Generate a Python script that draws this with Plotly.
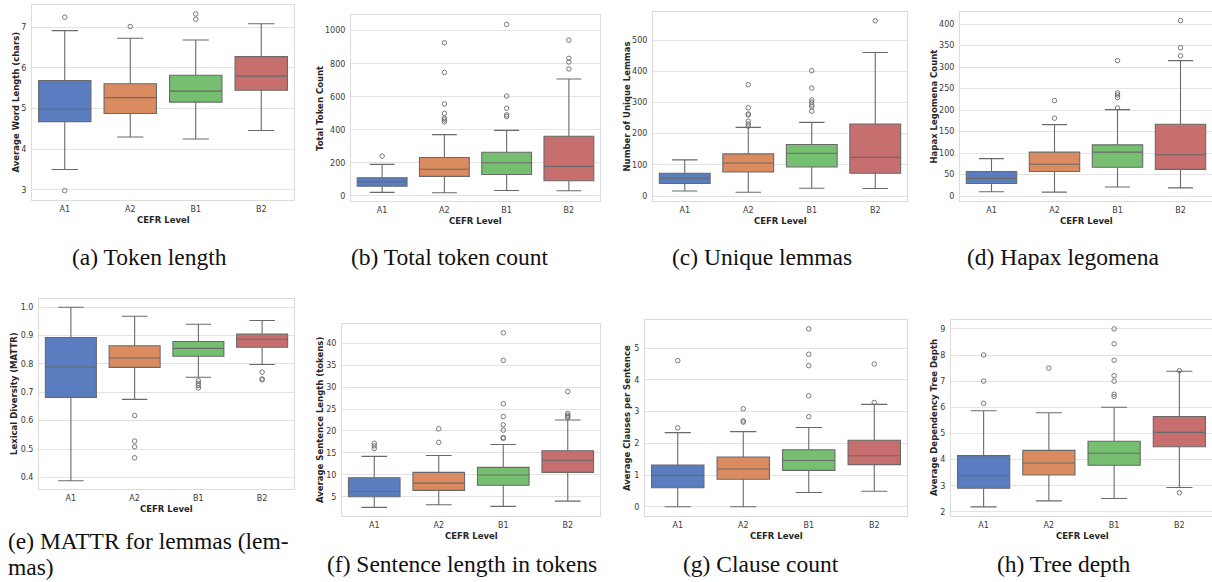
import plotly.graph_objects as go

W, H = 1212, 582

categories = ["A1", "A2", "B1", "B2"]

# (a) Average word length
wl_lo = [3.50, 4.30, 4.25, 4.46]
wl_q1 = [4.68, 4.88, 5.16, 5.45]
wl_med = [4.98, 5.27, 5.43, 5.80]
wl_q3 = [5.69, 5.61, 5.82, 6.28]
wl_hi = [6.92, 6.73, 6.69, 7.09]
wl_out_x = ["A1", "A1", "A2", "B1", "B1"]
wl_out_y = [7.25, 2.98, 7.02, 7.33, 7.20]

# (b) Total token count
tt_lo = [20, 18, 32, 30]
tt_q1 = [57, 117, 129, 91]
tt_med = [85, 160, 200, 178]
tt_q3 = [109, 232, 263, 360]
tt_hi = [190, 370, 396, 707]
tt_out_x = ["A1", "A2", "A2", "A2", "A2", "A2", "A2", "A2",
            "B1", "B1", "B1", "B1", "B1", "B2", "B2", "B2", "B2"]
tt_out_y = [240, 927, 747, 556, 499, 470, 460, 448,
            1038, 604, 530, 490, 480, 943, 832, 810, 768]

# (c) Unique lemmas
ul_lo = [16, 12, 25, 24]
ul_q1 = [40, 77, 93, 73]
ul_med = [57, 106, 137, 124]
ul_q3 = [73, 135, 165, 231]
ul_hi = [116, 220, 236, 460]
ul_out_x = ["A2"] * 7 + ["B1"] * 7 + ["B2"]
ul_out_y = [357, 283, 263, 260, 240, 231, 224,
            402, 346, 308, 301, 292, 286, 272, 562]

# (d) Hapax legomena
hl_lo = [10, 9, 21, 19]
hl_q1 = [29, 57, 67, 62]
hl_med = [41, 74, 102, 96]
hl_q3 = [57, 102, 119, 167]
hl_hi = [87, 166, 201, 315]
hl_out_x = ["A2", "A2", "B1", "B1", "B1", "B1", "B1", "B2", "B2", "B2"]
hl_out_y = [222, 181, 315, 240, 235, 229, 205, 408, 345, 326]

# (e) MATTR
mt_lo = [0.388, 0.675, 0.753, 0.798]
mt_q1 = [0.682, 0.788, 0.827, 0.859]
mt_med = [0.789, 0.821, 0.855, 0.887]
mt_q3 = [0.893, 0.864, 0.879, 0.905]
mt_hi = [1.000, 0.968, 0.940, 0.953]
mt_out_x = ["A2"] * 4 + ["B1"] * 4 + ["B2"] * 3
mt_out_y = [0.618, 0.528, 0.508, 0.469, 0.741, 0.732, 0.724, 0.715,
            0.771, 0.747, 0.744]

# (f) Sentence length
sl_lo = [2.56, 3.17, 2.8, 4.0]
sl_q1 = [5.0, 6.44, 7.6, 10.55]
sl_med = [6.2, 8.1, 9.94, 13.3]
sl_q3 = [9.33, 10.55, 11.7, 15.5]
sl_hi = [14.2, 14.4, 16.9, 22.5]
sl_out_x = ["A1"] * 3 + ["A2"] * 2 + ["B1"] * 8 + ["B2"] * 5
sl_out_y = [17.2, 16.6, 16.0, 20.5, 17.4,
            42.4, 36.1, 26.2, 23.3, 21.4, 20.2, 18.5, 18.3,
            29.0, 24.0, 23.6, 23.3, 23.0]

# (g) Clauses per sentence
cl_lo = [0.0, 0.0, 0.45, 0.49]
cl_q1 = [0.6, 0.87, 1.15, 1.33]
cl_med = [0.99, 1.19, 1.46, 1.61]
cl_q3 = [1.32, 1.57, 1.80, 2.10]
cl_hi = [2.34, 2.37, 2.50, 3.23]
cl_out_x = ["A1", "A1", "A2", "A2", "A2", "B1", "B1", "B1", "B1", "B1", "B2", "B2"]
cl_out_y = [4.61, 2.49, 3.09, 2.71, 2.67, 5.61, 4.81, 4.45, 3.50, 2.84, 4.50, 3.29]

# (h) Tree depth
td_lo = [2.19, 2.42, 2.51, 2.93]
td_q1 = [2.90, 3.41, 3.78, 4.49]
td_med = [3.38, 3.87, 4.24, 5.04]
td_q3 = [4.15, 4.35, 4.70, 5.65]
td_hi = [5.87, 5.79, 6.00, 7.38]
td_out_x = ["A1", "A1", "A1", "A2"] + ["B1"] * 7 + ["B2", "B2"]
td_out_y = [8.0, 7.0, 6.15, 7.5, 9.0, 8.43, 7.8, 7.21, 7.0, 6.5, 6.41, 7.40, 2.73]

y_titles = ["Average Word Length (chars)", "Total Token Count",
            "Number of Unique Lemmas", "Hapax Legomena Count",
            "Lexical Diversity (MATTR)", "Average Sentence Length (tokens)",
            "Average Clauses per Sentence", "Average Dependency Tree Depth"]
y_ticks = [[3, 4, 5, 6, 7], [0, 200, 400, 600, 800, 1000],
           [0, 100, 200, 300, 400, 500], [0, 50, 100, 150, 200, 250, 300, 350, 400],
           [0.4, 0.5, 0.6, 0.7, 0.8, 0.9, 1.0], [5, 10, 15, 20, 25, 30, 35, 40],
           [0, 1, 2, 3, 4, 5], [2, 3, 4, 5, 6, 7, 8, 9]]
y_ticktext = [None, None, None, None,
              ["0.4", "0.5", "0.6", "0.7", "0.8", "0.9", "1.0"], None, None, None]
captions = ["(a) Token length", "(b) Total token count", "(c) Unique lemmas",
            "(d) Hapax legomena", "(e) MATTR for lemmas (lem-",
            "(f) Sentence length in tokens", "(g) Clause count", "(h) Tree depth"]
caption_extra = "mas)"

panels = [
    (wl_lo, wl_q1, wl_med, wl_q3, wl_hi, wl_out_x, wl_out_y),
    (tt_lo, tt_q1, tt_med, tt_q3, tt_hi, tt_out_x, tt_out_y),
    (ul_lo, ul_q1, ul_med, ul_q3, ul_hi, ul_out_x, ul_out_y),
    (hl_lo, hl_q1, hl_med, hl_q3, hl_hi, hl_out_x, hl_out_y),
    (mt_lo, mt_q1, mt_med, mt_q3, mt_hi, mt_out_x, mt_out_y),
    (sl_lo, sl_q1, sl_med, sl_q3, sl_hi, sl_out_x, sl_out_y),
    (cl_lo, cl_q1, cl_med, cl_q3, cl_hi, cl_out_x, cl_out_y),
    (td_lo, td_q1, td_med, td_q3, td_hi, td_out_x, td_out_y),
]

# layout (pixel boxes: left, top, right, bottom) and y ranges
boxes_px = [(32, 5, 294, 200), (351, 15, 600, 201), (653, 12, 907, 201), (960, 12, 1213, 201),
            (39, 299, 294, 489), (342, 324, 600, 516), (645, 320, 907, 516), (951, 320, 1213, 516)]
y_ranges = [[2.75, 7.55], [-32, 1095], [-16, 590], [-11.6, 428],
            [0.359, 1.029], [0.6, 44.4], [-0.29, 5.89], [1.84, 9.34]]
ytitle_x = [15, 320, 626, 933, 14, 320, 627, 934]
caption_pos = [(149, 257), (449, 257), (762, 257), (1063, 257),
               (6, 541), (462, 564), (761, 564), (1063, 564)]
caption_extra_pos = (6, 567)

colors = ["#597DBF", "#DA8B5F", "#76BF71", "#C76E6E"]
line_col = "#6a6a6a"
grid_col = "#e3e3e3"
font_fam = "DejaVu Sans"
cap_font = dict(family="Liberation Serif", size=23.5, color="#111111")

def px(x):
    return x / W

def py(y):
    return 1 - y / H

fig = go.Figure()
annotations = []
layout_axes = {}

for i, (lo, q1, med, q3, hi, ox, oy) in enumerate(panels):
    n = i + 1
    xa = "x" if n == 1 else f"x{n}"
    ya = "y" if n == 1 else f"y{n}"
    for j, cat in enumerate(categories):
        fig.add_trace(go.Box(
            x=[j], q1=[q1[j]], median=[med[j]], q3=[q3[j]],
            lowerfence=[lo[j]], upperfence=[hi[j]],
            width=0.8, whiskerwidth=0.5, fillcolor=colors[j],
            line=dict(color=line_col, width=1.1), boxpoints=False,
            xaxis=xa, yaxis=ya, showlegend=False, hoverinfo="skip"))
    fig.add_trace(go.Scatter(
        x=[categories.index(c) for c in ox], y=oy, mode="markers",
        marker=dict(symbol="circle-open", size=4.5, color=line_col,
                    line=dict(width=0.9, color=line_col)),
        xaxis=xa, yaxis=ya, showlegend=False, hoverinfo="skip"))

    l, t, r, b = boxes_px[i]
    xkey = "xaxis" if n == 1 else f"xaxis{n}"
    ykey = "yaxis" if n == 1 else f"yaxis{n}"
    layout_axes[xkey] = dict(
        domain=[px(l), min(px(r), 1.0)], anchor=ya, range=[-0.5, 3.5],
        tickvals=[0, 1, 2, 3], ticktext=categories, showgrid=False,
        showline=True, mirror=True, linecolor="#dcdcdc", linewidth=1,
        ticks="outside", ticklen=1, tickcolor="rgba(0,0,0,0)",
        tickfont=dict(family=font_fam, size=8, color="#3a3a3a"),
        zeroline=False, fixedrange=True)
    ytxt = y_ticktext[i]
    ydict = dict(
        domain=[py(b), py(t)], anchor=xa, range=y_ranges[i],
        tickvals=y_ticks[i], showgrid=True, gridcolor=grid_col, gridwidth=1,
        showline=True, mirror=True, linecolor="#dcdcdc", linewidth=1,
        ticks="outside", ticklen=3, tickcolor="rgba(0,0,0,0)",
        tickfont=dict(family=font_fam, size=8, color="#3a3a3a"),
        zeroline=False, fixedrange=True)
    if ytxt is not None:
        ydict["ticktext"] = ytxt
    layout_axes[ykey] = ydict

    # y-axis title
    annotations.append(dict(
        x=px(ytitle_x[i]), y=py((t + b) / 2), xref="paper", yref="paper",
        text=f"<b>{y_titles[i]}</b>", textangle=-90, showarrow=False,
        font=dict(family=font_fam, size=8.5, color="#262626"),
        xanchor="center", yanchor="middle"))
    # x-axis title
    annotations.append(dict(
        x=px((l + r) / 2), y=py(b + 19.5),
        xref="paper", yref="paper", text="<b>CEFR Level</b>", showarrow=False,
        font=dict(family=font_fam, size=8.5, color="#262626"),
        xanchor="center", yanchor="middle"))
    # caption
    cx, cy = caption_pos[i]
    annotations.append(dict(
        x=px(cx), y=py(cy), xref="paper", yref="paper", text=captions[i],
        showarrow=False, font=cap_font,
        xanchor="left" if i == 4 else "center", yanchor="middle"))

annotations.append(dict(
    x=px(caption_extra_pos[0]), y=py(caption_extra_pos[1]), xref="paper", yref="paper",
    text=caption_extra, showarrow=False, font=cap_font,
    xanchor="left", yanchor="middle"))

fig.update_layout(
    width=W, height=H, margin=dict(l=0, r=0, t=0, b=0),
    paper_bgcolor="white", plot_bgcolor="white",
    annotations=annotations, showlegend=False, **layout_axes)

fig.write_html("out.html", config={"displayModeBar": False},
               post_script="document.body.style.margin='0';document.body.style.overflow='hidden';")
